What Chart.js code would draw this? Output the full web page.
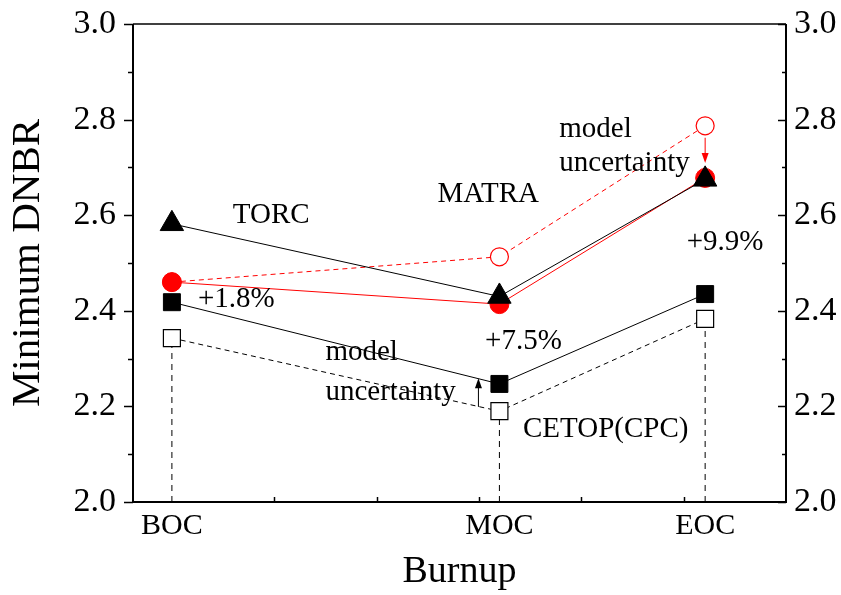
<!DOCTYPE html>
<html>
<head>
<meta charset="utf-8">
<script src="https://cdn.jsdelivr.net/npm/chart.js@4.4.1/dist/chart.umd.min.js"></script>
<style>
  html, body { margin: 0; padding: 0; background: #fff; }
  #wrap { width: 841px; height: 595px; }
</style>
</head>
<body>
<div id="wrap"><canvas id="chart"></canvas></div>
<script>
// burnup steps (position on the burnup axis)
const burnupLabels = ["BOC", "MOC", "EOC"];
const burnupPos = [0, 3.2, 5.21];

// minimum DNBR per code
const torc = [2.582, 2.430, 2.675];
const matra = [2.460, 2.414, 2.678];
const matraOpen = [2.460, 2.513, 2.787];   // without model uncertainty
const cetop = [2.418, 2.247, 2.435];
const cetopOpen = [2.343, 2.190, 2.383];   // without model uncertainty

const yMin = 2.0, yMax = 3.0;

const FONT = '"Liberation Serif", "Times New Roman", Times, serif';

// text notes, anchored in data coordinates
const notes = [
  { text: "TORC", x: 0.97, y: 2.600, align: "center" },
  { text: "MATRA", x: 3.09, y: 2.644, align: "center" },
  { text: "model", x: 3.785, y: 2.780, align: "left" },
  { text: "uncertainty", x: 3.785, y: 2.709, align: "left" },
  { text: "+9.9%", x: 5.03, y: 2.544, align: "left" },
  { text: "+1.8%", x: 0.254, y: 2.423, align: "left" },
  { text: "+7.5%", x: 3.06, y: 2.335, align: "left" },
  { text: "model", x: 1.50, y: 2.312, align: "left" },
  { text: "uncertainty", x: 1.50, y: 2.230, align: "left" },
  { text: "CETOP(CPC)", x: 3.43, y: 2.151, align: "left" }
];

const arrows = [
  { x: 2.995, from: 2.199, to: 2.259, color: "#000" },
  { x: 5.21, from: 2.762, to: 2.709, color: "#ff0000" }
];

const pts = ys => ys.map((y, i) => ({ x: burnupPos[i], y: y }));

// dashed drop lines from the open squares down to the axis
const drops = burnupPos.map((x, i) => ({
  data: [{ x: x, y: yMin }, { x: x, y: cetopOpen[i] }],
  borderColor: "#000",
  borderWidth: 1,
  borderDash: [6, 5],
  pointRadius: 0,
  order: 10
}));

function drawArrow(ctx, x, y0, y1, color) {
  const dir = Math.sign(y1 - y0);
  ctx.save();
  ctx.strokeStyle = color;
  ctx.fillStyle = color;
  ctx.lineWidth = 1;
  ctx.beginPath();
  ctx.moveTo(x, y0);
  ctx.lineTo(x, y1 - dir * 7);
  ctx.stroke();
  ctx.beginPath();
  ctx.moveTo(x, y1);
  ctx.lineTo(x - 3.5, y1 - dir * 10);
  ctx.lineTo(x + 3.5, y1 - dir * 10);
  ctx.closePath();
  ctx.fill();
  ctx.restore();
}

// no extra room for overhanging tick labels, keep the plot box fixed
function noPad(s) {
  s.paddingTop = 0; s.paddingBottom = 0;
  s.paddingLeft = 0; s.paddingRight = 0;
}

const decor = {
  id: "decor",
  afterDraw(chart) {
    const { ctx, chartArea: a, scales } = chart;
    const xs = scales.x, ys = scales.y;
    ctx.save();
    ctx.strokeStyle = "#000";

    // frame
    ctx.lineWidth = 2;
    ctx.beginPath();
    ctx.moveTo(a.left, a.top); ctx.lineTo(a.left, a.bottom);
    ctx.moveTo(a.right, a.top); ctx.lineTo(a.right, a.bottom);
    ctx.moveTo(a.left - 1, a.bottom); ctx.lineTo(a.right + 1, a.bottom);
    ctx.stroke();
    ctx.lineWidth = 1.5;
    ctx.beginPath();
    ctx.moveTo(a.left, a.top); ctx.lineTo(a.right, a.top);
    ctx.stroke();

    // y ticks: left outward, right inward
    ctx.lineWidth = 1.5;
    for (let k = 0; k <= 10; k++) {
      const v = yMin + k * 0.1;
      const py = Math.round(ys.getPixelForValue(v)) + 0.5;
      const major = k % 2 === 0;
      ctx.beginPath();
      ctx.moveTo(a.left, py); ctx.lineTo(a.left - (major ? 9 : 5), py);
      ctx.moveTo(a.right, py); ctx.lineTo(a.right - (major ? 8 : 4), py);
      ctx.stroke();
    }
    // x minor ticks, inward
    for (let k = 1; k <= 5; k++) {
      const px = Math.round(xs.getPixelForValue(k)) + 0.5;
      ctx.beginPath();
      ctx.moveTo(px, a.bottom); ctx.lineTo(px, a.bottom - 5);
      ctx.stroke();
    }

    // arrows
    arrows.forEach(ar => {
      drawArrow(ctx, xs.getPixelForValue(ar.x),
        ys.getPixelForValue(ar.from), ys.getPixelForValue(ar.to), ar.color);
    });

    // notes
    ctx.fillStyle = "#000";
    ctx.font = "29px " + FONT;
    ctx.textBaseline = "middle";
    notes.forEach(n => {
      ctx.textAlign = n.align;
      ctx.fillText(n.text, xs.getPixelForValue(n.x), ys.getPixelForValue(n.y));
    });
    ctx.restore();
  }
};

new Chart(document.getElementById("chart"), {
  type: "line",
  data: {
    datasets: [
      {
        label: "TORC",
        data: pts(torc),
        borderColor: "#000",
        borderWidth: 1,
        pointStyle: "triangle",
        pointRadius: 13.5,
        pointBackgroundColor: "#000",
        pointBorderColor: "#000",
        order: 1
      },
      {
        label: "MATRA",
        data: pts(matra),
        borderColor: "#ff0000",
        borderWidth: 1,
        pointStyle: "circle",
        pointRadius: 9.5,
        pointBackgroundColor: "#ff0000",
        pointBorderColor: "#ff0000",
        order: 2
      },
      {
        label: "CETOP(CPC)",
        data: pts(cetop),
        borderColor: "#000",
        borderWidth: 1,
        pointStyle: "rect",
        pointRadius: 12,
        pointBackgroundColor: "#000",
        pointBorderColor: "#000",
        order: 3
      },
      {
        label: "CETOP(CPC) w/o uncertainty",
        data: pts(cetopOpen),
        borderColor: "#000",
        borderWidth: 1,
        borderDash: [5, 4],
        pointStyle: "rect",
        pointRadius: 12,
        pointBackgroundColor: "#fff",
        pointBorderColor: "#000",
        pointBorderWidth: 1.2,
        order: 4
      },
      {
        label: "MATRA w/o uncertainty",
        data: pts(matraOpen),
        borderColor: "#ff0000",
        borderWidth: 1,
        borderDash: [5, 4],
        pointStyle: "circle",
        pointRadius: 9,
        pointBackgroundColor: "#fff",
        pointBorderColor: "#ff0000",
        pointBorderWidth: 1.2,
        order: 5
      },
      ...drops
    ]
  },
  options: {
    responsive: true,
    maintainAspectRatio: false,
    animation: false,
    layout: { padding: { top: 24, left: 0, right: 0, bottom: 0 } },
    plugins: { legend: { display: false }, tooltip: { enabled: false } },
    scales: {
      x: {
        type: "linear",
        min: -0.38,
        max: 6.0,
        grid: { display: false, drawTicks: false },
        border: { display: false },
        afterBuildTicks: s => { s.ticks = burnupPos.map(v => ({ value: v })); },
        afterFit: s => { s.height = 93; noPad(s); },
        ticks: {
          autoSkip: false,
          maxRotation: 0,
          padding: 6,
          color: "#000",
          font: { family: FONT, size: 30 },
          callback: (v, i) => burnupLabels[i]
        },
        title: {
          display: true,
          text: "Burnup",
          color: "#000",
          font: { family: FONT, size: 38 },
          padding: { top: 0, bottom: 0 }
        }
      },
      y: {
        min: yMin,
        max: yMax,
        grid: { display: false, drawTicks: false },
        border: { display: false },
        afterFit: s => { s.width = 133; noPad(s); },
        ticks: {
          stepSize: 0.2,
          padding: 17,
          color: "#000",
          font: { family: FONT, size: 34 },
          callback: v => v.toFixed(1)
        },
        title: {
          display: true,
          text: "Minimum DNBR",
          color: "#000",
          font: { family: FONT, size: 41 },
          padding: { top: 4, bottom: 0 }
        }
      },
      y2: {
        position: "right",
        min: yMin,
        max: yMax,
        grid: { display: false, drawTicks: false },
        border: { display: false },
        afterFit: s => { s.width = 55; noPad(s); },
        ticks: {
          stepSize: 0.2,
          padding: 8,
          color: "#000",
          font: { family: FONT, size: 34 },
          callback: v => v.toFixed(1)
        }
      }
    }
  },
  plugins: [decor]
});
</script>
</body>
</html>
